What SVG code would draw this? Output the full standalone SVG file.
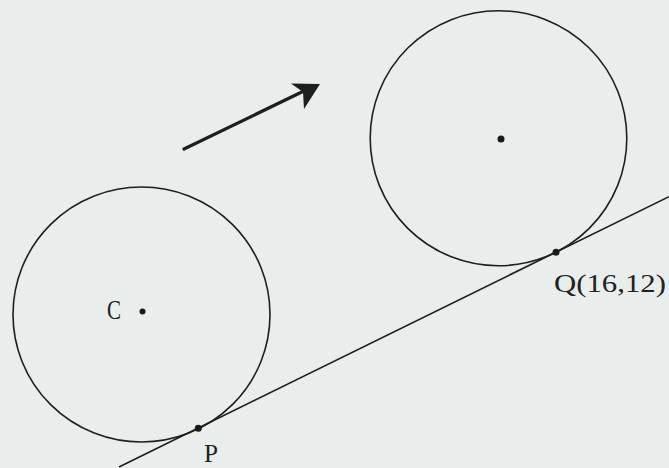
<svg xmlns="http://www.w3.org/2000/svg" width="669" height="468" viewBox="0 0 669 468">
<style>
.c{fill:none;stroke:#1e1e1e;stroke-width:1.6}
.d{fill:#1a1a1a}
.t{font-family:"Liberation Serif","Times New Roman",serif;fill:#222}
</style>
<rect width="669" height="468" fill="#e9eeec"/>
<g id="circleC">
<ellipse class="c" cx="141.5" cy="314.5" rx="128.5" ry="127.5"/>
<circle class="d" cx="142.5" cy="311.5" r="3"/>
<text class="t" x="107" y="319" font-size="28" textLength="14" lengthAdjust="spacingAndGlyphs">C</text>
</g>
<g id="circleQ">
<ellipse class="c" cx="498.5" cy="138.2" rx="128.3" ry="127.5"/>
<circle class="d" cx="501" cy="139" r="3.5"/>
</g>
<g id="connectors">
<line class="c" x1="119" y1="467" x2="669" y2="196.6"/>
<path d="M184,149 L308,89" fill="none" stroke="#1e1e1e" stroke-width="3.2" stroke-linecap="round"/>
<path d="M320,84 L291,83.5 L303,92 L304,109 Z" fill="#1e1e1e"/>
</g>
<g id="P">
<circle class="d" cx="198.3" cy="428.3" r="3.5"/>
<text class="t" x="204" y="462" font-size="26" textLength="14" lengthAdjust="spacingAndGlyphs">P</text>
</g>
<g id="Q">
<circle class="d" cx="556" cy="252.3" r="3.5"/>
<text class="t" x="554" y="292" font-size="25" textLength="112" lengthAdjust="spacingAndGlyphs">Q(16,12)</text>
</g>
</svg>
